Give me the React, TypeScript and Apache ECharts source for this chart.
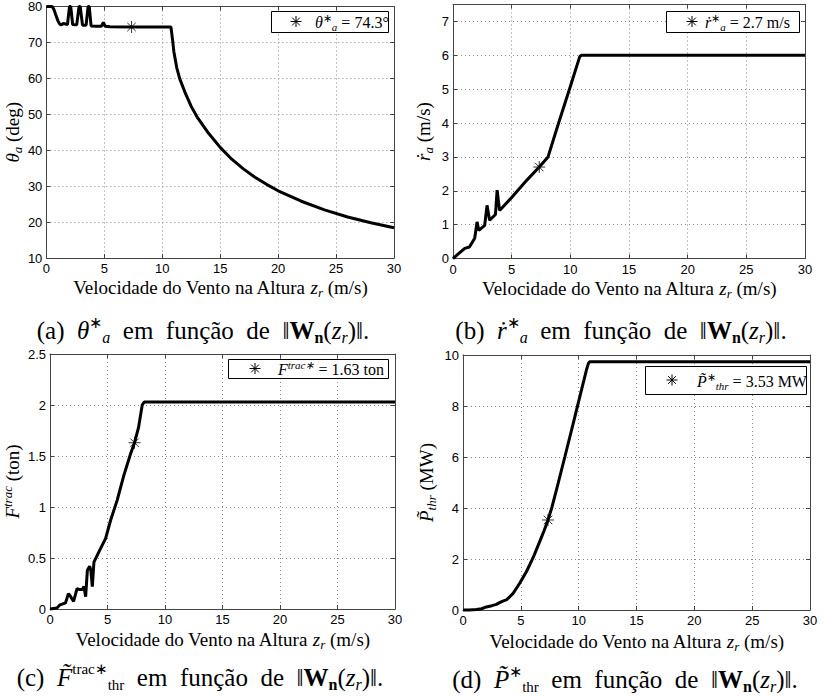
import React, { useEffect, useRef } from 'react';
import * as echarts from 'echarts';

const SERIF = 'Liberation Serif';
const SANS = 'Liberation Sans';
const NB = '\u00A0';
const EN = '\u2002';

// ---------- data ----------
// wind speed at height z_r (m/s) vs optimal values
const thetaCurve: number[][] = [
  [0, 80], [0.5, 80], [0.65, 79.2], [0.8, 77.8], [1.0, 76], [1.15, 75.1], [1.3, 74.9], [1.5, 75.3],
  [1.65, 75.1], [1.82, 75.0], [2.0, 80], [2.1, 80], [2.27, 75.0], [2.45, 74.9], [2.62, 74.9],
  [2.82, 80], [2.92, 80], [3.12, 74.8], [3.43, 74.8], [3.6, 80], [3.7, 80], [3.86, 74.6],
  [4.3, 74.5], [4.75, 74.5], [4.92, 75.6], [5.08, 74.5], [5.5, 74.35], [7.35, 74.3], [10.75, 74.3],
  [10.9, 70.5], [11.0, 67.5], [11.25, 63], [11.5, 60], [12, 55.8], [12.5, 52.2], [13, 49.3],
  [14, 44.7], [15, 40.8], [16, 37.5], [17, 34.8], [18, 32.5], [19, 30.5], [20, 28.7], [22, 25.8],
  [24, 23.4], [26, 21.4], [28, 19.8], [30, 18.4],
];
const rDotCurve: number[][] = [
  [0, 0], [0.5, 0.15], [1.0, 0.3], [1.4, 0.34], [1.85, 0.6], [2.05, 1.08], [2.2, 0.83], [2.7, 0.98],
  [2.9, 1.57], [3.12, 1.13], [3.62, 1.3], [3.76, 2.02], [3.97, 1.42], [5.0, 1.8], [6.26, 2.3],
  [7.35, 2.7], [8.1, 3.0], [9.0, 4.0], [10.0, 5.08], [10.8, 5.96], [10.95, 6.0], [30, 6.0],
];
const fTracCurve: number[][] = [
  [0, 0], [0.6, 0.01], [0.85, 0.04], [1.0, 0.045], [1.35, 0.06], [1.6, 0.15], [1.75, 0.13],
  [2.05, 0.075], [2.35, 0.2], [2.6, 0.19], [2.8, 0.19], [2.95, 0.22], [3.1, 0.12], [3.25, 0.38],
  [3.45, 0.42], [3.55, 0.38], [3.68, 0.22], [3.82, 0.46], [4.25, 0.56], [4.83, 0.69], [5.27, 0.87],
  [5.85, 1.07], [6.42, 1.31], [7.0, 1.52], [7.35, 1.63], [7.7, 1.78], [8.02, 2.0], [8.2, 2.03],
  [30, 2.03],
];
const pThrCurve: number[][] = [
  [0, 0], [0.5, 0], [1.16, 0.02], [1.6, 0.05], [2.02, 0.12], [2.5, 0.17], [2.89, 0.22], [3.2, 0.3],
  [3.5, 0.36], [3.75, 0.4], [4.0, 0.5], [4.33, 0.65], [4.9, 1.05], [5.48, 1.5], [6.06, 2.05],
  [6.63, 2.68], [7.0, 3.1], [7.35, 3.53], [7.7, 4.05], [8.08, 4.71], [8.8, 6.0], [9.52, 7.3],
  [10.1, 8.37], [10.67, 9.41], [10.85, 9.68], [10.96, 9.74], [30, 9.74],
];
const optimalWind = 7.35;
const optimalValues = [74.3, 2.7, 1.63, 3.53];

// axis ranges / ticks
const xRange = { min: 0, max: 30, interval: 5 };
const yRanges = [
  { min: 10, max: 80, interval: 10 },
  { min: 0, max: 7.5, interval: 1 },
  { min: 0, max: 2.5, interval: 0.5 },
  { min: 0, max: 10, interval: 2 },
];

const xTitle = `{t|Velocidade do Vento na Altura${NB}}{i|z}{sub|r}{t|${NB}(m/s)}`;
const yTitles = [
  `{i|θ}{sub|a}{t|${NB}(deg)}`,
  `{i|ṙ}{sub|a}{t|${NB}(m/s)}`,
  `{i|F}{sup|trac}{t|${NB}(ton)}`,
  `{i|P̃}{sub|thr}{t|${NB}(MW)}`,
];
const legendTexts = [
  `{i|θ}{sup|∗}{sub|a}{t|${NB}=${NB}${optimalValues[0]}°}`,
  `{i|ṙ}{sup|∗}{sub|a}{t|${NB}=${NB}${optimalValues[1]} m/s}`,
  `{i|F}{supi|trac∗}{t|${NB}=${NB}${optimalValues[2]} ton}`,
  `{i|P̃}{sup|∗}{sub|thr}{t|${NB}=${NB}${optimalValues[3]} MW}`,
];
const captionTail = `{t|${EN}em${EN}função${EN}de${EN}‖}{b|W}{bsub|n}{t|(}{i|z}{sub|r}{t|)‖.}`;
const captions = [
  `{t|(a)${EN}}{i|θ}{sup|∗}{sub|a}` + captionTail,
  `{t|(b)${EN}}{i|ṙ}{sup|∗}{sub|a}` + captionTail,
  `{t|(c)${EN}}{i|F̃}{supr|trac∗}{subr|thr}` + captionTail,
  `{t|(d)${EN}}{i|P̃}{sup|∗}{subr|thr}` + captionTail,
];

const ASTERISK_D = 'M0,-5.5L0,5.5M-5.5,0L5.5,0M-3.9,-3.9L3.9,3.9M-3.9,3.9L3.9,-3.9';
echarts.graphic.registerShape('asterisk', echarts.graphic.extendPath(ASTERISK_D, {}) as any);

// ---------- layout ----------
const grids = [
  { left: 46, top: 5, width: 348, height: 253 },
  { left: 453, top: 4.5, width: 352, height: 254 },
  { left: 49, top: 354, width: 346, height: 255 },
  { left: 463, top: 355, width: 347, height: 255 },
];
const xGaps = [16, 18, 19, 19.5];
const yGaps = [20, 18, 26, 25];
const legendBoxes = [
  { x: 271, y: 11, w: 117, h: 21, star: 296, text: 315 },
  { x: 666, y: 11, w: 133, h: 21, star: 692, text: 705 },
  { x: 228, y: 359, w: 160, h: 19, star: 255, text: 278 },
  { x: 645, y: 366, w: 161, h: 28, star: 672, text: 697 },
];
const captionPos = [
  { x: 203, y: 330 },
  { x: 621, y: 330 },
  { x: 200, y: 677 },
  { x: 625, y: 679 },
];

const FRAME = '#444';

export default function App() {
  const ref = useRef<HTMLDivElement>(null);
  useEffect(() => {
    document.body.style.margin = '0';
    if (!ref.current) return;
    const chart = echarts.init(ref.current, undefined, { renderer: 'svg' });

    const nameRich = {
      t: { fontSize: 19, fontFamily: SERIF, lineHeight: 23, color: '#000' },
      i: { fontStyle: 'italic', fontSize: 19, fontFamily: SERIF, lineHeight: 23, color: '#000' },
      sub: { fontStyle: 'italic', fontSize: 13, fontFamily: SERIF, lineHeight: 13, verticalAlign: 'bottom', color: '#000' },
      sup: { fontStyle: 'italic', fontSize: 13, fontFamily: SERIF, lineHeight: 13, verticalAlign: 'top', color: '#000' },
    };
    const nameTextStyle = { fontFamily: SERIF, fontSize: 19, color: '#000', lineHeight: 23, rich: nameRich };

    const xAxes: any[] = [];
    const yAxes: any[] = [];
    for (let i = 0; i < 4; i++) {
      xAxes.push({
        type: 'value', gridIndex: i, ...xRange, position: 'bottom',
        name: xTitle, nameLocation: 'middle', nameGap: xGaps[i], nameTextStyle,
        axisLine: { show: true, onZero: false, lineStyle: { color: FRAME, width: 1 } },
        axisTick: { show: true, inside: true, length: 4, lineStyle: { color: FRAME } },
        axisLabel: { color: '#000', fontFamily: SANS, fontSize: 13, margin: 4 },
        splitLine: { show: true, lineStyle: { color: '#888', type: [1, 3], width: 1 } },
      });
      yAxes.push({
        type: 'value', gridIndex: i, ...yRanges[i], position: 'left',
        name: yTitles[i], nameLocation: 'middle', nameGap: yGaps[i], nameTextStyle,
        axisLine: { show: true, onZero: false, lineStyle: { color: FRAME, width: 1 } },
        axisTick: { show: true, inside: true, length: 4, lineStyle: { color: FRAME } },
        axisLabel: { color: '#000', fontFamily: SANS, fontSize: 13, margin: 4, showMaxLabel: i !== 1 },
        splitLine: { show: true, lineStyle: { color: '#888', type: [1, 3], width: 1 } },
      });
    }
    for (let i = 0; i < 4; i++) {
      xAxes.push({
        type: 'value', gridIndex: i, ...xRange, position: 'top',
        axisLine: { show: true, onZero: false, lineStyle: { color: FRAME, width: 1 } },
        axisTick: { show: true, inside: true, length: 4, lineStyle: { color: FRAME } },
        axisLabel: { show: false }, splitLine: { show: false },
      });
      yAxes.push({
        type: 'value', gridIndex: i, ...yRanges[i], position: 'right',
        axisLine: { show: true, onZero: false, lineStyle: { color: FRAME, width: 1 } },
        axisTick: { show: true, inside: true, length: 4, lineStyle: { color: FRAME } },
        axisLabel: { show: false }, splitLine: { show: false },
      });
    }

    const curves = [thetaCurve, rDotCurve, fTracCurve, pThrCurve];
    const series: any[] = [];
    curves.forEach((c, i) => {
      series.push({
        type: 'line', xAxisIndex: i, yAxisIndex: i, data: c, symbol: 'none', showSymbol: false,
        lineStyle: { color: '#000', width: 3 }, clip: false, z: 3, silent: true,
      });
      series.push({
        type: 'scatter', xAxisIndex: i, yAxisIndex: i, data: [[optimalWind, optimalValues[i]]],
        symbol: 'path://' + ASTERISK_D, symbolSize: 12,
        itemStyle: { color: 'rgba(0,0,0,0)', borderColor: '#000', borderWidth: 1 },
        z: 5, silent: true,
      });
    });

    const capRich = {
      t: { fontSize: 25, fontFamily: SERIF, lineHeight: 31, fill: '#000' },
      i: { fontStyle: 'italic', fontSize: 25, fontFamily: SERIF, lineHeight: 31, fill: '#000' },
      b: { fontWeight: 'bold', fontSize: 25, fontFamily: SERIF, lineHeight: 31, fill: '#000' },
      sup: { fontSize: 16, fontFamily: SERIF, lineHeight: 19, verticalAlign: 'top', fill: '#000' },
      supr: { fontSize: 15, fontFamily: SERIF, lineHeight: 19, verticalAlign: 'top', fill: '#000' },
      sub: { fontStyle: 'italic', fontSize: 16, fontFamily: SERIF, lineHeight: 17, verticalAlign: 'bottom', fill: '#000' },
      subr: { fontSize: 15, fontFamily: SERIF, lineHeight: 17, verticalAlign: 'bottom', fill: '#000' },
      bsub: { fontWeight: 'bold', fontSize: 16, fontFamily: SERIF, lineHeight: 17, verticalAlign: 'bottom', fill: '#000' },
    };
    const legRich = {
      t: { fontSize: 16, fontFamily: SERIF, lineHeight: 20, fill: '#000' },
      i: { fontStyle: 'italic', fontSize: 16, fontFamily: SERIF, lineHeight: 20, fill: '#000' },
      sup: { fontSize: 11, fontFamily: SERIF, lineHeight: 11, verticalAlign: 'top', fill: '#000' },
      supi: { fontStyle: 'italic', fontSize: 11, fontFamily: SERIF, lineHeight: 11, verticalAlign: 'top', fill: '#000' },
      sub: { fontStyle: 'italic', fontSize: 11, fontFamily: SERIF, lineHeight: 11, verticalAlign: 'bottom', fill: '#000' },
    };

    const graphic: any[] = [];
    legendBoxes.forEach((b, i) => {
      const cy = b.y + b.h / 2;
      graphic.push({
        type: 'rect', z: 100, silent: true,
        shape: { x: b.x + 0.5, y: b.y + 0.5, width: b.w, height: b.h },
        style: { fill: '#fff', stroke: '#000', lineWidth: 1 },
      });
      graphic.push({
        type: 'asterisk', z: 101, silent: true, x: b.star, y: cy,
        style: { stroke: '#000', lineWidth: 1, fill: null },
      });
      graphic.push({
        type: 'text', z: 101, silent: true, x: b.text, y: cy + 1,
        style: {
          text: legendTexts[i], rich: legRich, font: `16px ${SERIF}`, lineHeight: 20,
          fill: '#000', textAlign: 'left', textVerticalAlign: 'middle',
        },
      });
    });
    captionPos.forEach((p, i) => {
      graphic.push({
        type: 'text', z: 101, silent: true, x: p.x, y: p.y,
        style: {
          text: captions[i], rich: capRich, font: `25px ${SERIF}`, lineHeight: 31,
          fill: '#000', textAlign: 'center', textVerticalAlign: 'middle',
        },
      });
    });

    chart.setOption({
      animation: false,
      backgroundColor: '#fff',
      grid: grids.map((g) => ({ ...g, containLabel: false })),
      xAxis: xAxes,
      yAxis: yAxes,
      series,
      graphic,
    });
    return () => chart.dispose();
  }, []);
  return <div ref={ref} style={{ width: 825, height: 697 }} />;
}
